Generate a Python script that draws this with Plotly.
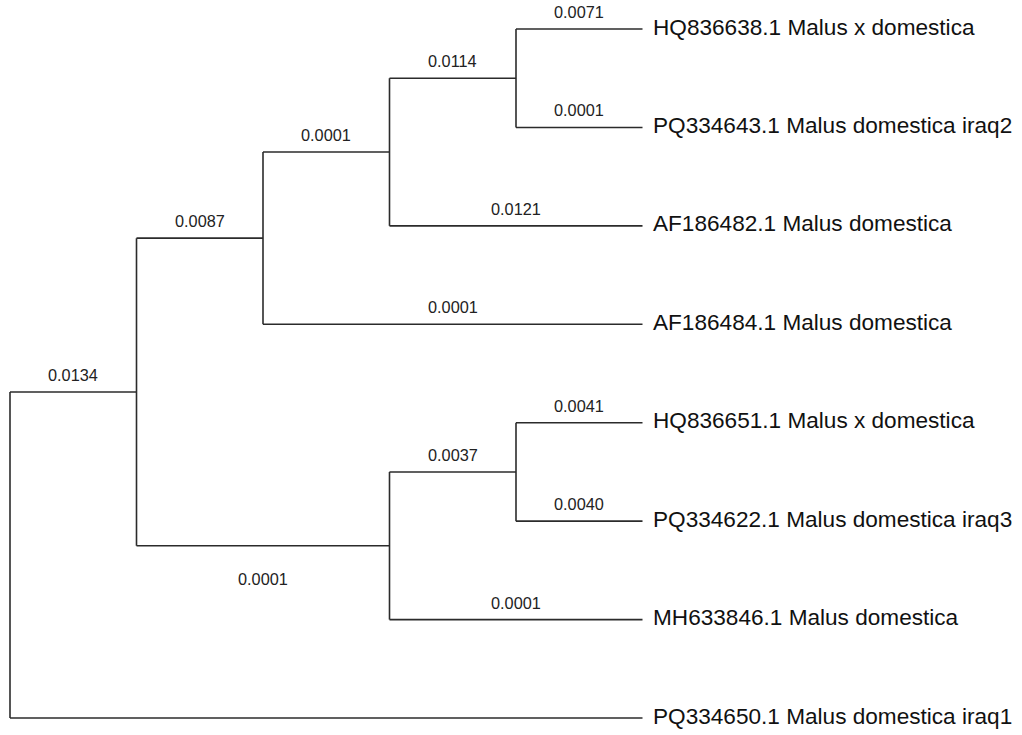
import plotly.graph_objects as go

# ---- data ----
leaf_names = [
    "HQ836638.1 Malus x domestica",
    "PQ334643.1 Malus domestica iraq2",
    "AF186482.1 Malus domestica",
    "AF186484.1 Malus domestica",
    "HQ836651.1 Malus x domestica",
    "PQ334622.1 Malus domestica iraq3",
    "MH633846.1 Malus domestica",
    "PQ334650.1 Malus domestica iraq1",
]
# internal nodes (ids 8..14) and their children
internal_children = {
    8: [0, 1],
    9: [8, 2],
    10: [9, 3],
    11: [4, 5],
    12: [11, 6],
    13: [10, 12],
    14: [13, 7],
}
root_id = 14
# branch lengths (label shown on the branch leading to each node)
branch_lengths = {
    0: "0.0071", 1: "0.0001", 2: "0.0121", 3: "0.0001",
    4: "0.0041", 5: "0.0040", 6: "0.0001", 7: None,
    8: "0.0114", 9: "0.0001", 10: "0.0087", 11: "0.0037",
    12: "0.0001", 13: "0.0134",
}
labels_below = [12]

# ---- layout of tree (cladogram) ----
parent = {}
for p, ch in internal_children.items():
    for c in ch:
        parent[c] = p

height = {}
def get_height(n):
    if n in height:
        return height[n]
    if n not in internal_children:
        height[n] = 0
    else:
        height[n] = 1 + max(get_height(c) for c in internal_children[n])
    return height[n]

max_h = get_height(root_id)
ypos = {}
def get_y(n):
    if n in ypos:
        return ypos[n]
    if n not in internal_children:
        ypos[n] = n
    else:
        ys = [get_y(c) for c in internal_children[n]]
        ypos[n] = (min(ys) + max(ys)) / 2
    return ypos[n]

for n in list(internal_children) + list(range(len(leaf_names))):
    get_height(n)
    get_y(n)
xpos = {n: max_h - h for n, h in height.items()}

line_x, line_y = [], []
for n, p in parent.items():
    line_x += [xpos[p], xpos[n], None]
    line_y += [ypos[n], ypos[n], None]
for n, ch in internal_children.items():
    ys = [ypos[c] for c in ch]
    line_x += [xpos[n], xpos[n], None]
    line_y += [min(ys), max(ys), None]

fig = go.Figure()
fig.add_trace(go.Scatter(x=line_x, y=line_y, mode="lines",
                         line=dict(color="#2b2b2b", width=1.6),
                         hoverinfo="skip", showlegend=False))

annotations = []
for n, p in parent.items():
    lab = branch_lengths.get(n)
    if lab is None:
        continue
    below = n in labels_below
    annotations.append(dict(
        x=(xpos[n] + xpos[p]) / 2, y=ypos[n], text=lab, showarrow=False,
        xanchor="center", yanchor="middle",
        yshift=-33 if below else 17,
        font=dict(family="Liberation Sans, Arial, sans-serif", size=16.3, color="#222222"),
    ))
for i, name in enumerate(leaf_names):
    annotations.append(dict(
        x=xpos[i], y=ypos[i], text=name, showarrow=False,
        xanchor="left", yanchor="middle", xshift=8, yshift=2,
        font=dict(family="Liberation Sans, Arial, sans-serif", size=22.6, color="#111111"),
    ))

px_per_x = 126.5
px_per_y = 98.43
fig.update_layout(
    width=1022, height=735,
    margin=dict(l=0, r=0, t=0, b=0),
    paper_bgcolor="white", plot_bgcolor="white",
    xaxis=dict(range=[-10 / px_per_x, (1022 - 10) / px_per_x], visible=False, fixedrange=True),
    yaxis=dict(range=[(735 - 29) / px_per_y, -29 / px_per_y], visible=False, fixedrange=True),
    annotations=annotations,
    showlegend=False,
)
fig.write_html("out.html", config={"displayModeBar": False},
               post_script="document.body.style.margin='0';document.body.style.overflow='hidden';")
